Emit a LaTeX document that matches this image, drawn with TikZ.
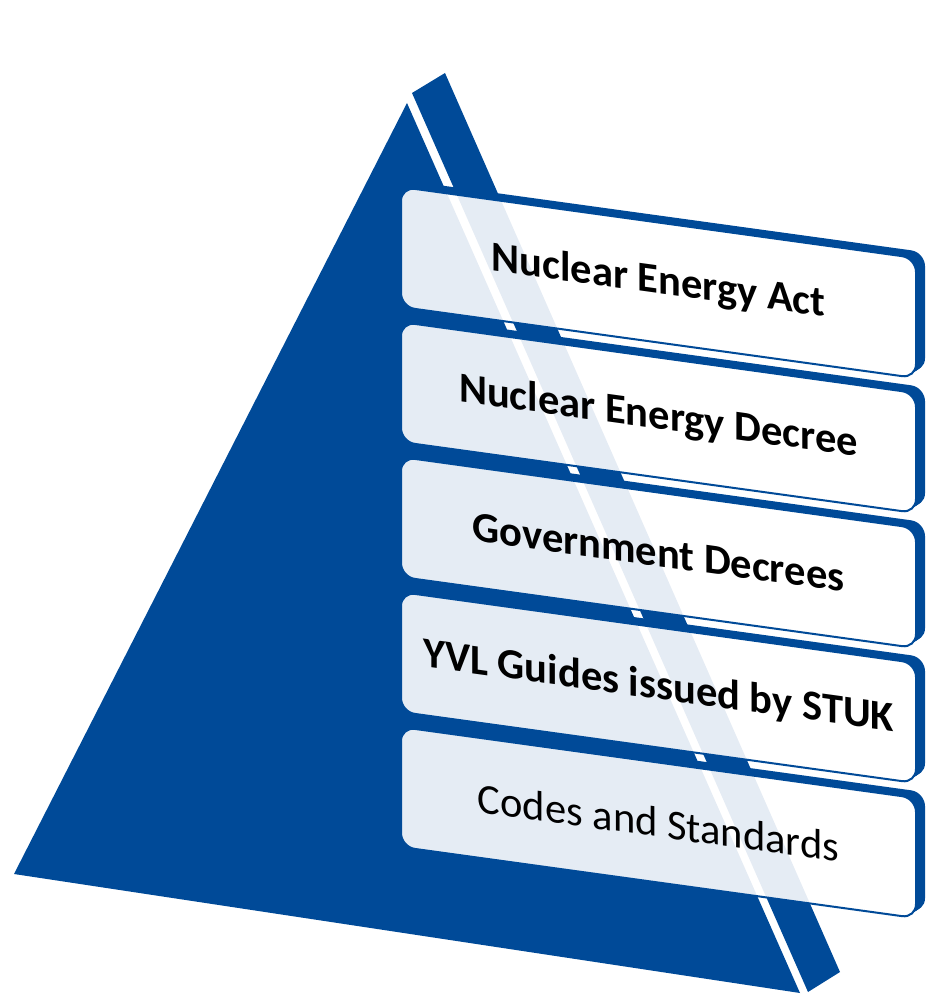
\documentclass[tikz,border=0pt]{standalone}
\usepackage{fontspec}
\setmainfont{Carlito}
\definecolor{pyr}{RGB}{0,74,152}
\begin{document}
\begin{tikzpicture}[x=1pt,y=-1pt,
  lbl/.style={text=black, transform shape, inner sep=0pt, font=\fontsize{42.5}{44}\selectfont},
  boxshape/.style={rounded corners=14pt}]
\useasboundingbox (0,0) rectangle (928,1006);
% pyramid
\fill[pyr] (407,103) -- (800,993) -- (14,874) -- cycle;
\fill[pyr] (412,93) -- (445,73) -- (840,972) -- (808,992) -- cycle;
% boxes
\foreach \i/\txt/\fnt in {0/Nuclear Energy Act/\bfseries,
                          1/Nuclear Energy Decree/\bfseries,
                          2/Government Decrees/\bfseries,
                          3/YVL Guides issued by STUK/\bfseries,
                          4/Codes and Standards/\mdseries}{
  \foreach \t in {1,2,...,9}{
    \begin{scope}[shift={(401+\t,187+135*\i-0.65*\t)}, yslant=-0.138]
      \fill[pyr, boxshape] (0,0) rectangle (515,120);
    \end{scope}
  }
  \begin{scope}[shift={(401,187+135*\i)}, yslant=-0.138]
    \fill[white, boxshape] (0,0) rectangle (515,120);
    \begin{scope}
      \clip[boxshape] (0,0) rectangle (515,120);
      \fill[pyr, opacity=0.1, reset cm] (407,103) -- (800,993) -- (14,874) -- cycle;
      \fill[pyr, opacity=0.1, reset cm] (412,93) -- (445,73) -- (840,972) -- (808,992) -- cycle;
    \end{scope}
    \draw[pyr, line width=2pt, boxshape] (0,0) rectangle (515,120);
    \node[lbl] (t\i) at (257.5,60) {\fnt \txt};
  \end{scope}
}
\end{tikzpicture}
\end{document}
